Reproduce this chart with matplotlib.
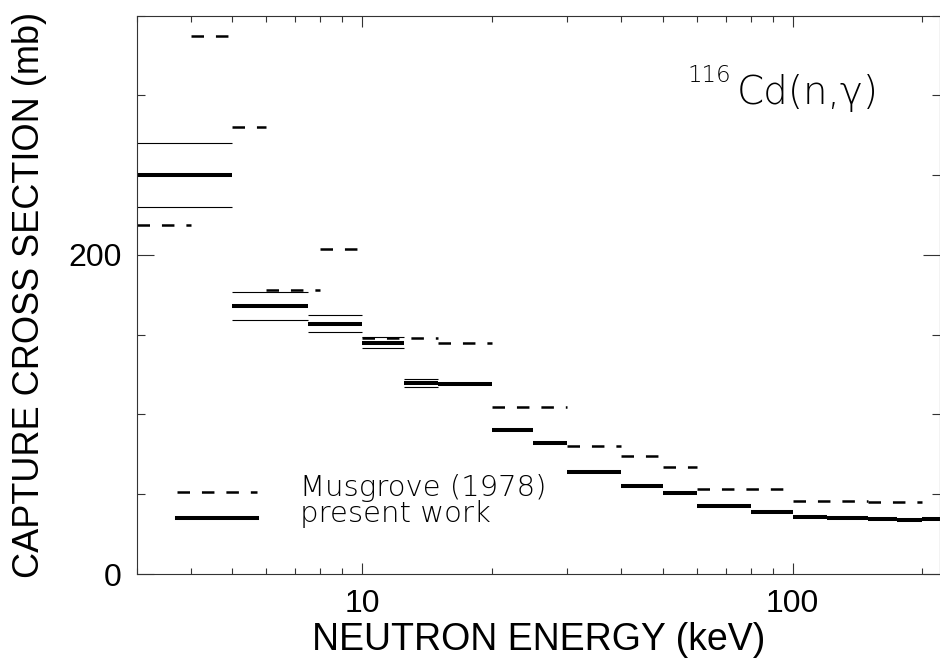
import matplotlib
matplotlib.use("Agg")
import matplotlib.pyplot as plt
from matplotlib.lines import Line2D
from matplotlib.ticker import LogLocator, MultipleLocator, NullFormatter, FixedFormatter, FixedLocator

plt.rcParams["font.family"] = ["Liberation Sans", "DejaVu Sans"]
plt.rcParams["lines.scale_dashes"] = False

# present work: energy bins (keV), cross section (mb), uncertainty (mb)
present_lo = [3, 5, 7.5, 10, 12.5, 15, 20, 25, 30, 40, 50, 60, 80, 100, 120, 150, 175, 200]
present_hi = [5, 7.5, 10, 12.5, 15, 20, 25, 30, 40, 50, 60, 80, 100, 120, 150, 175, 200, 225]
present_xs = [250, 168, 157, 145, 120, 119, 90.3, 82.4, 64.2, 55.2, 50.6, 42.7, 39.1,
              35.7, 35.0, 34.4, 34.0, 34.4]
present_err = [20, 8.5, 5.5, 3.5, 2.5, 0, 0, 0, 0, 0, 0, 0, 0, 0, 0, 0, 0, 0]

# Musgrove (1978)
mus_lo = [3, 4, 5, 6, 8, 10, 15, 20, 30, 40, 50, 60, 100, 150]
mus_hi = [4, 5, 6, 8, 10, 15, 20, 30, 40, 50, 60, 100, 150, 200]
mus_xs = [219, 337, 280, 178, 204, 148, 145, 105, 80, 74, 67, 53, 46, 45]

DASH = (0, (9.0, 8.6))

fig = plt.figure(figsize=(9.4, 6.65), dpi=100)
ax = fig.add_axes([136.7 / 940, 1 - 574 / 665, (940 - 136.7) / 940, (574 - 15.7) / 665])

ax.hlines(mus_xs, mus_lo, mus_hi, colors="black", linewidth=1.8, linestyles=[DASH])
ax.hlines(present_xs, present_lo, present_hi, colors="black", linewidth=2.9)

# error band edges where the uncertainty is visible
for lo, hi, v, e in zip(present_lo, present_hi, present_xs, present_err):
  if e > 0:
    ax.hlines([v - e, v + e], lo, hi, colors="black", linewidth=0.8)

ax.set_xscale("log")
ax.set_xlim(3, 220)
ax.set_ylim(0, 350)

ax.xaxis.set_major_locator(FixedLocator([10, 100]))
ax.xaxis.set_major_formatter(FixedFormatter(["10", "100"]))
ax.xaxis.set_minor_locator(LogLocator(base=10, subs=range(2, 10)))
ax.xaxis.set_minor_formatter(NullFormatter())
ax.yaxis.set_major_locator(MultipleLocator(200))
ax.yaxis.set_minor_locator(MultipleLocator(50))

for s in ax.spines.values():
  s.set_linewidth(0.8)
  s.set_color("#333333")

ax.tick_params(which="both", direction="in", top=True, right=True, colors="#333333",
               labelcolor="black", labelsize=23)
ax.tick_params(axis="x", which="major", length=8, width=0.8, pad=11)
ax.tick_params(axis="x", which="minor", length=4, width=0.8)
ax.tick_params(axis="y", which="major", length=12, width=0.8, pad=11)
ax.tick_params(axis="y", which="minor", length=6, width=0.8)

ax.set_xlabel("NEUTRON ENERGY (keV)", fontsize=27)
ax.set_ylabel("CAPTURE CROSS SECTION (mb)", fontsize=26)
ax.xaxis.set_label_coords(0.5, -0.086)
ax.yaxis.set_label_coords(-0.112, 0.5)

# reaction label
light = dict(family="DejaVu Sans", weight="light", color="black")
ax.text(0.6852, 0.8818, "116", transform=ax.transAxes, fontsize=16.5, ha="left",
        va="baseline", **light)
ax.text(0.7473, 0.8413, "Cd(n,\u03b3)", transform=ax.transAxes, fontsize=28, ha="left",
        va="baseline", **light)

# key
ax.add_line(Line2D([0.0502, 0.1498], [0.1474, 0.1474], transform=ax.transAxes,
                   color="black", linewidth=1.8, linestyle=DASH))
ax.add_line(Line2D([0.0502, 0.1498], [0.1003, 0.1003], transform=ax.transAxes,
                   color="black", linewidth=2.9))
ax.text(0.2033, 0.1397, "Musgrove (1978)", transform=ax.transAxes, fontsize=21,
        va="baseline", **light)
ax.text(0.2033, 0.0937, "present work", transform=ax.transAxes, fontsize=21,
        va="baseline", **light)

fig.savefig("out.png", dpi=100)
